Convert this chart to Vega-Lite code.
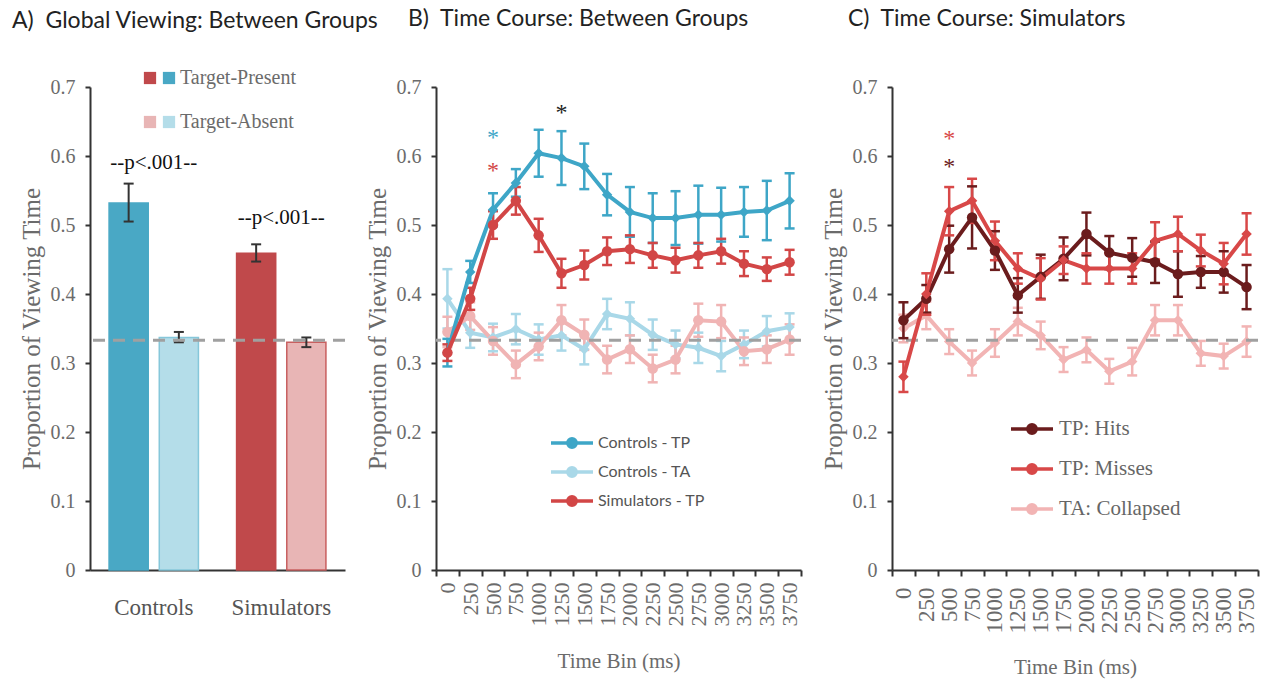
{
  "$schema": "https://vega.github.io/schema/vega-lite/v6.json",
  "background": "white",
  "padding": {"left": 12, "top": 8, "right": 2, "bottom": 2},
  "bounds": "flush",
  "spacing": 91,
  "resolve": {
    "scale": {"color": "independent", "fill": "independent", "x": "independent", "y": "independent"},
    "legend": {"color": "independent", "fill": "independent"}
  },
  "config": {
    "view": {"stroke": null},
    "axis": {
      "domainColor": "#333", "domainWidth": 2, "tickColor": "#333", "tickWidth": 2, "tickSize": 5,
      "labelFont": "Liberation Serif", "labelColor": "#6b6b6b", "labelFontSize": 20,
      "titleFont": "Liberation Serif", "titleColor": "#6b6b6b", "titleFontSize": 25, "titleFontWeight": "normal",
      "grid": false
    },
    "axisY": {"tickCount": 7, "labelPadding": 10, "titlePadding": 6, "labelExpr": "datum.value == 0 ? '0' : format(datum.value, '.1f')"},
    "title": {"font": "Lato", "fontSize": 23, "fontWeight": "normal", "color": "#222", "anchor": "start", "frame": "group"}
  },
  "datasets": {
    "bars": [
      {"group": "Controls", "condition": "Target-Present", "v": 0.532, "lo": 0.505, "hi": 0.560},
      {"group": "Controls", "condition": "Target-Absent", "v": 0.337, "lo": 0.330, "hi": 0.345},
      {"group": "Simulators", "condition": "Target-Present", "v": 0.459, "lo": 0.447, "hi": 0.472},
      {"group": "Simulators", "condition": "Target-Absent", "v": 0.330, "lo": 0.323, "hi": 0.337}
    ],
    "pvals": [
      {"group": "Controls", "v": 0.59, "label": "--p<.001--"},
      {"group": "Simulators", "v": 0.51, "label": "--p<.001--"}
    ],
    "chance": [{"level": 0.333}],
    "timeB": [
      {"series": "Controls - TP", "t": 0, "v": 0.315, "lo": 0.295, "hi": 0.335},
      {"series": "Controls - TP", "t": 250, "v": 0.432, "lo": 0.416, "hi": 0.448},
      {"series": "Controls - TP", "t": 500, "v": 0.522, "lo": 0.498, "hi": 0.546},
      {"series": "Controls - TP", "t": 750, "v": 0.561, "lo": 0.541, "hi": 0.581},
      {"series": "Controls - TP", "t": 1000, "v": 0.604, "lo": 0.570, "hi": 0.638},
      {"series": "Controls - TP", "t": 1250, "v": 0.597, "lo": 0.558, "hi": 0.636},
      {"series": "Controls - TP", "t": 1500, "v": 0.585, "lo": 0.552, "hi": 0.618},
      {"series": "Controls - TP", "t": 1750, "v": 0.544, "lo": 0.514, "hi": 0.574},
      {"series": "Controls - TP", "t": 2000, "v": 0.519, "lo": 0.483, "hi": 0.555},
      {"series": "Controls - TP", "t": 2250, "v": 0.510, "lo": 0.474, "hi": 0.546},
      {"series": "Controls - TP", "t": 2500, "v": 0.510, "lo": 0.471, "hi": 0.549},
      {"series": "Controls - TP", "t": 2750, "v": 0.515, "lo": 0.473, "hi": 0.557},
      {"series": "Controls - TP", "t": 3000, "v": 0.515, "lo": 0.476, "hi": 0.554},
      {"series": "Controls - TP", "t": 3250, "v": 0.519, "lo": 0.483, "hi": 0.555},
      {"series": "Controls - TP", "t": 3500, "v": 0.521, "lo": 0.478, "hi": 0.564},
      {"series": "Controls - TP", "t": 3750, "v": 0.535, "lo": 0.495, "hi": 0.575},
      {"series": "Simulators - TP", "t": 0, "v": 0.315, "lo": 0.303, "hi": 0.327},
      {"series": "Simulators - TP", "t": 250, "v": 0.393, "lo": 0.377, "hi": 0.409},
      {"series": "Simulators - TP", "t": 500, "v": 0.500, "lo": 0.480, "hi": 0.520},
      {"series": "Simulators - TP", "t": 750, "v": 0.535, "lo": 0.515, "hi": 0.555},
      {"series": "Simulators - TP", "t": 1000, "v": 0.485, "lo": 0.461, "hi": 0.509},
      {"series": "Simulators - TP", "t": 1250, "v": 0.430, "lo": 0.409, "hi": 0.451},
      {"series": "Simulators - TP", "t": 1500, "v": 0.442, "lo": 0.421, "hi": 0.463},
      {"series": "Simulators - TP", "t": 1750, "v": 0.462, "lo": 0.442, "hi": 0.482},
      {"series": "Simulators - TP", "t": 2000, "v": 0.465, "lo": 0.445, "hi": 0.485},
      {"series": "Simulators - TP", "t": 2250, "v": 0.456, "lo": 0.438, "hi": 0.474},
      {"series": "Simulators - TP", "t": 2500, "v": 0.449, "lo": 0.431, "hi": 0.467},
      {"series": "Simulators - TP", "t": 2750, "v": 0.456, "lo": 0.438, "hi": 0.474},
      {"series": "Simulators - TP", "t": 3000, "v": 0.462, "lo": 0.444, "hi": 0.480},
      {"series": "Simulators - TP", "t": 3250, "v": 0.444, "lo": 0.426, "hi": 0.462},
      {"series": "Simulators - TP", "t": 3500, "v": 0.436, "lo": 0.419, "hi": 0.453},
      {"series": "Simulators - TP", "t": 3750, "v": 0.446, "lo": 0.428, "hi": 0.464},
      {"series": "Controls - TA", "t": 0, "v": 0.393, "lo": 0.350, "hi": 0.436},
      {"series": "Controls - TA", "t": 250, "v": 0.344, "lo": 0.322, "hi": 0.366},
      {"series": "Controls - TA", "t": 500, "v": 0.337, "lo": 0.317, "hi": 0.357},
      {"series": "Controls - TA", "t": 750, "v": 0.349, "lo": 0.327, "hi": 0.371},
      {"series": "Controls - TA", "t": 1000, "v": 0.334, "lo": 0.312, "hi": 0.356},
      {"series": "Controls - TA", "t": 1250, "v": 0.340, "lo": 0.318, "hi": 0.362},
      {"series": "Controls - TA", "t": 1500, "v": 0.320, "lo": 0.298, "hi": 0.342},
      {"series": "Controls - TA", "t": 1750, "v": 0.371, "lo": 0.349, "hi": 0.393},
      {"series": "Controls - TA", "t": 2000, "v": 0.364, "lo": 0.340, "hi": 0.388},
      {"series": "Controls - TA", "t": 2250, "v": 0.341, "lo": 0.319, "hi": 0.363},
      {"series": "Controls - TA", "t": 2500, "v": 0.327, "lo": 0.307, "hi": 0.347},
      {"series": "Controls - TA", "t": 2750, "v": 0.322, "lo": 0.300, "hi": 0.344},
      {"series": "Controls - TA", "t": 3000, "v": 0.310, "lo": 0.288, "hi": 0.332},
      {"series": "Controls - TA", "t": 3250, "v": 0.327, "lo": 0.307, "hi": 0.347},
      {"series": "Controls - TA", "t": 3500, "v": 0.346, "lo": 0.324, "hi": 0.368},
      {"series": "Controls - TA", "t": 3750, "v": 0.352, "lo": 0.332, "hi": 0.372},
      {"series": "Simulators - TA", "t": 0, "v": 0.345, "lo": 0.323, "hi": 0.367},
      {"series": "Simulators - TA", "t": 250, "v": 0.368, "lo": 0.348, "hi": 0.388},
      {"series": "Simulators - TA", "t": 500, "v": 0.332, "lo": 0.312, "hi": 0.352},
      {"series": "Simulators - TA", "t": 750, "v": 0.298, "lo": 0.278, "hi": 0.318},
      {"series": "Simulators - TA", "t": 1000, "v": 0.324, "lo": 0.304, "hi": 0.344},
      {"series": "Simulators - TA", "t": 1250, "v": 0.362, "lo": 0.340, "hi": 0.384},
      {"series": "Simulators - TA", "t": 1500, "v": 0.341, "lo": 0.319, "hi": 0.363},
      {"series": "Simulators - TA", "t": 1750, "v": 0.305, "lo": 0.285, "hi": 0.325},
      {"series": "Simulators - TA", "t": 2000, "v": 0.320, "lo": 0.300, "hi": 0.340},
      {"series": "Simulators - TA", "t": 2250, "v": 0.292, "lo": 0.272, "hi": 0.312},
      {"series": "Simulators - TA", "t": 2500, "v": 0.305, "lo": 0.285, "hi": 0.325},
      {"series": "Simulators - TA", "t": 2750, "v": 0.362, "lo": 0.338, "hi": 0.386},
      {"series": "Simulators - TA", "t": 3000, "v": 0.360, "lo": 0.336, "hi": 0.384},
      {"series": "Simulators - TA", "t": 3250, "v": 0.317, "lo": 0.297, "hi": 0.337},
      {"series": "Simulators - TA", "t": 3500, "v": 0.320, "lo": 0.300, "hi": 0.340},
      {"series": "Simulators - TA", "t": 3750, "v": 0.334, "lo": 0.312, "hi": 0.356}
    ],
    "timeC": [
      {"series": "TP: Hits", "t": 0, "v": 0.362, "lo": 0.336, "hi": 0.388},
      {"series": "TP: Hits", "t": 250, "v": 0.393, "lo": 0.373, "hi": 0.413},
      {"series": "TP: Hits", "t": 500, "v": 0.465, "lo": 0.431, "hi": 0.499},
      {"series": "TP: Hits", "t": 750, "v": 0.511, "lo": 0.466, "hi": 0.556},
      {"series": "TP: Hits", "t": 1000, "v": 0.463, "lo": 0.435, "hi": 0.491},
      {"series": "TP: Hits", "t": 1250, "v": 0.398, "lo": 0.373, "hi": 0.423},
      {"series": "TP: Hits", "t": 1500, "v": 0.425, "lo": 0.393, "hi": 0.457},
      {"series": "TP: Hits", "t": 1750, "v": 0.451, "lo": 0.420, "hi": 0.482},
      {"series": "TP: Hits", "t": 2000, "v": 0.487, "lo": 0.456, "hi": 0.518},
      {"series": "TP: Hits", "t": 2250, "v": 0.460, "lo": 0.436, "hi": 0.484},
      {"series": "TP: Hits", "t": 2500, "v": 0.453, "lo": 0.425, "hi": 0.481},
      {"series": "TP: Hits", "t": 2750, "v": 0.446, "lo": 0.416, "hi": 0.476},
      {"series": "TP: Hits", "t": 3000, "v": 0.429, "lo": 0.396, "hi": 0.462},
      {"series": "TP: Hits", "t": 3250, "v": 0.432, "lo": 0.409, "hi": 0.455},
      {"series": "TP: Hits", "t": 3500, "v": 0.432, "lo": 0.402, "hi": 0.462},
      {"series": "TP: Hits", "t": 3750, "v": 0.410, "lo": 0.378, "hi": 0.442},
      {"series": "TP: Misses", "t": 0, "v": 0.280, "lo": 0.258, "hi": 0.302},
      {"series": "TP: Misses", "t": 250, "v": 0.400, "lo": 0.370, "hi": 0.430},
      {"series": "TP: Misses", "t": 500, "v": 0.520, "lo": 0.485, "hi": 0.555},
      {"series": "TP: Misses", "t": 750, "v": 0.535, "lo": 0.503, "hi": 0.567},
      {"series": "TP: Misses", "t": 1000, "v": 0.477, "lo": 0.449, "hi": 0.505},
      {"series": "TP: Misses", "t": 1250, "v": 0.437, "lo": 0.415, "hi": 0.459},
      {"series": "TP: Misses", "t": 1500, "v": 0.422, "lo": 0.392, "hi": 0.452},
      {"series": "TP: Misses", "t": 1750, "v": 0.449, "lo": 0.429, "hi": 0.469},
      {"series": "TP: Misses", "t": 2000, "v": 0.437, "lo": 0.415, "hi": 0.459},
      {"series": "TP: Misses", "t": 2250, "v": 0.437, "lo": 0.415, "hi": 0.459},
      {"series": "TP: Misses", "t": 2500, "v": 0.437, "lo": 0.415, "hi": 0.459},
      {"series": "TP: Misses", "t": 2750, "v": 0.477, "lo": 0.450, "hi": 0.504},
      {"series": "TP: Misses", "t": 3000, "v": 0.487, "lo": 0.462, "hi": 0.512},
      {"series": "TP: Misses", "t": 3250, "v": 0.463, "lo": 0.440, "hi": 0.486},
      {"series": "TP: Misses", "t": 3500, "v": 0.444, "lo": 0.414, "hi": 0.474},
      {"series": "TP: Misses", "t": 3750, "v": 0.487, "lo": 0.457, "hi": 0.517},
      {"series": "TA: Collapsed", "t": 0, "v": 0.350, "lo": 0.330, "hi": 0.370},
      {"series": "TA: Collapsed", "t": 250, "v": 0.369, "lo": 0.349, "hi": 0.389},
      {"series": "TA: Collapsed", "t": 500, "v": 0.331, "lo": 0.313, "hi": 0.349},
      {"series": "TA: Collapsed", "t": 750, "v": 0.300, "lo": 0.282, "hi": 0.318},
      {"series": "TA: Collapsed", "t": 1000, "v": 0.329, "lo": 0.309, "hi": 0.349},
      {"series": "TA: Collapsed", "t": 1250, "v": 0.360, "lo": 0.340, "hi": 0.380},
      {"series": "TA: Collapsed", "t": 1500, "v": 0.340, "lo": 0.320, "hi": 0.360},
      {"series": "TA: Collapsed", "t": 1750, "v": 0.305, "lo": 0.287, "hi": 0.323},
      {"series": "TA: Collapsed", "t": 2000, "v": 0.319, "lo": 0.301, "hi": 0.337},
      {"series": "TA: Collapsed", "t": 2250, "v": 0.288, "lo": 0.270, "hi": 0.306},
      {"series": "TA: Collapsed", "t": 2500, "v": 0.302, "lo": 0.282, "hi": 0.322},
      {"series": "TA: Collapsed", "t": 2750, "v": 0.362, "lo": 0.340, "hi": 0.384},
      {"series": "TA: Collapsed", "t": 3000, "v": 0.362, "lo": 0.340, "hi": 0.384},
      {"series": "TA: Collapsed", "t": 3250, "v": 0.314, "lo": 0.296, "hi": 0.332},
      {"series": "TA: Collapsed", "t": 3500, "v": 0.310, "lo": 0.292, "hi": 0.328},
      {"series": "TA: Collapsed", "t": 3750, "v": 0.331, "lo": 0.309, "hi": 0.353}
    ],
    "starsB": [
      {"series": "Controls - TP", "t": 500, "v": 0.633},
      {"series": "Simulators - TP", "t": 500, "v": 0.585},
      {"series": "Between", "t": 1250, "v": 0.670}
    ],
    "starsC": [
      {"series": "TP: Misses", "t": 500, "v": 0.632},
      {"series": "TP: Hits", "t": 500, "v": 0.592}
    ]
  },
  "hconcat": [
    {
      "width": 255,
      "height": 483,
      "title": {"text": "A)\u00a0 Global Viewing: Between Groups", "dx": -78, "offset": 35},
      "resolve": {"scale": {"fill": "independent"}, "legend": {"fill": "independent"}},
      "layer": [
        {
          "data": {"name": "bars"},
          "transform": [{"filter": "datum.group == 'Controls'"}],
          "mark": {"type": "bar", "strokeWidth": 1.5},
          "encoding": {
            "x": {"field": "group", "type": "nominal", "title": null, "scale": {"paddingInner": 0, "paddingOuter": 0}, "axis": {"ticks": false, "labelAngle": 0, "labelFontSize": 23, "labelPadding": 26, "labelColor": "#555"}},
            "xOffset": {"field": "condition", "type": "nominal", "scale": {"domain": ["Target-Present", "Target-Absent"], "paddingInner": 0.22, "paddingOuter": 0.38}},
            "y": {"field": "v", "type": "quantitative", "title": "Proportion of Viewing Time", "scale": {"domain": [0, 0.7], "nice": false}},
            "fill": {"field": "condition", "type": "nominal", "scale": {"domain": ["Target-Present", "Target-Absent"], "range": ["#49a8c5", "#b4dde9"]},
              "legend": {"orient": "none", "legendX": 69, "legendY": -19, "title": null, "symbolType": "square", "symbolSize": 150, "symbolStrokeWidth": 0, "labelFont": "Liberation Serif", "labelFontSize": 20, "labelColor": "#6b6b6b", "labelOffset": 1, "rowPadding": 24, "padding": 0}},
            "stroke": {"condition": {"test": "datum.condition == 'Target-Absent'", "value": "#86c7da"}, "value": "#49a8c5"}
          }
        },
        {
          "data": {"name": "bars"},
          "transform": [{"filter": "datum.group == 'Simulators'"}],
          "mark": {"type": "bar", "strokeWidth": 1.5},
          "encoding": {
            "x": {"field": "group", "type": "nominal", "title": null, "scale": {"paddingInner": 0, "paddingOuter": 0}, "axis": {"ticks": false, "labelAngle": 0, "labelFontSize": 23, "labelPadding": 26, "labelColor": "#555"}},
            "xOffset": {"field": "condition", "type": "nominal", "scale": {"domain": ["Target-Present", "Target-Absent"], "paddingInner": 0.22, "paddingOuter": 0.38}},
            "y": {"field": "v", "type": "quantitative", "title": "Proportion of Viewing Time", "scale": {"domain": [0, 0.7], "nice": false}},
            "fill": {"field": "condition", "type": "nominal", "scale": {"domain": ["Target-Present", "Target-Absent"], "range": ["#c0494b", "#e8b5b5"]},
              "legend": {"orient": "none", "legendX": 50, "legendY": -19, "title": null, "symbolType": "square", "symbolSize": 150, "symbolStrokeWidth": 0, "labelExpr": "''", "labelFontSize": 20, "rowPadding": 24, "padding": 0}},
            "stroke": {"condition": {"test": "datum.condition == 'Target-Absent'", "value": "#c86060"}, "value": "#c0494b"}
          }
        },
        {
          "data": {"name": "bars"},
          "mark": {"type": "rule", "color": "#333", "strokeWidth": 2},
          "encoding": {
            "x": {"field": "group", "type": "nominal", "title": null},
            "xOffset": {"field": "condition", "type": "nominal"},
            "y": {"field": "lo", "type": "quantitative", "title": "Proportion of Viewing Time"},
            "y2": {"field": "hi"}
          }
        },
        {
          "data": {"name": "bars"},
          "transform": [{"fold": ["lo", "hi"], "as": ["k", "val"]}],
          "mark": {"type": "point", "shape": "stroke", "size": 100, "strokeWidth": 2, "color": "#333", "filled": false, "opacity": 1},
          "encoding": {
            "x": {"field": "group", "type": "nominal", "title": null},
            "xOffset": {"field": "condition", "type": "nominal"},
            "y": {"field": "val", "type": "quantitative", "title": "Proportion of Viewing Time"}
          }
        },
        {
          "data": {"name": "chance"},
          "mark": {"type": "rule", "color": "#a0a0a0", "strokeWidth": 3, "strokeDash": [12, 8]},
          "encoding": {"y": {"field": "level", "type": "quantitative", "title": "Proportion of Viewing Time"}}
        },
        {
          "data": {"name": "pvals"},
          "mark": {"type": "text", "font": "Liberation Serif", "fontSize": 21, "color": "#111", "baseline": "middle"},
          "encoding": {
            "x": {"field": "group", "type": "nominal", "title": null},
            "y": {"field": "v", "type": "quantitative", "title": "Proportion of Viewing Time"},
            "text": {"field": "label"}
          }
        }
      ]
    },
    {
      "width": 365,
      "height": 483,
      "title": {"text": "B)\u00a0 Time Course: Between Groups", "dx": -28, "offset": 46},
      "layer": [
        {
          "data": {"name": "timeB"},
          "transform": [{"filter": "slice(datum.series, -2) == 'TA'"}],
          "mark": {"type": "rule", "strokeWidth": 2.5},
          "encoding": {
            "x": {"field": "t", "type": "ordinal", "title": "Time Bin (ms)", "scale": {"type": "band", "domain": [0, 250, 500, 750, 1000, 1250, 1500, 1750, 2000, 2250, 2500, 2750, 3000, 3250, 3500, 3750], "paddingInner": 0, "paddingOuter": 0}, "axis": {"labelAngle": -90, "tickBand": "extent", "tickSize": 6, "labelFontSize": 22, "labelPadding": 6, "titlePadding": 24, "titleFontSize": 21}},
            "y": {"field": "lo", "type": "quantitative", "title": "Proportion of Viewing Time", "scale": {"domain": [0, 0.7], "nice": false}},
            "y2": {"field": "hi"},
            "color": {"field": "series", "type": "nominal", "scale": {"domain": ["Controls - TP", "Controls - TA", "Simulators - TP", "Simulators - TA", "Between"], "range": ["#3ea6c7", "#a9d8e8", "#d24646", "#f0b4b4", "#222222"]}}
          }
        },
        {
          "data": {"name": "timeB"},
          "transform": [{"filter": "slice(datum.series, -2) == 'TA'"}, {"fold": ["lo", "hi"], "as": ["k", "val"]}],
          "mark": {"type": "point", "shape": "stroke", "size": 100, "strokeWidth": 2.5, "filled": false, "opacity": 1},
          "encoding": {
            "x": {"field": "t", "type": "ordinal", "title": "Time Bin (ms)"},
            "y": {"field": "val", "type": "quantitative", "title": "Proportion of Viewing Time"},
            "color": {"field": "series", "type": "nominal"}
          }
        },
        {
          "data": {"name": "timeB"},
          "transform": [{"filter": "slice(datum.series, -2) == 'TA'"}],
          "mark": {"type": "line", "strokeWidth": 4},
          "encoding": {
            "x": {"field": "t", "type": "ordinal", "title": "Time Bin (ms)"},
            "y": {"field": "v", "type": "quantitative", "title": "Proportion of Viewing Time"},
            "color": {"field": "series", "type": "nominal"}
          }
        },
        {
          "data": {"name": "timeB"},
          "transform": [{"filter": "slice(datum.series, -2) == 'TA'"}],
          "mark": {"type": "point", "filled": true, "size": 110, "opacity": 1},
          "encoding": {
            "x": {"field": "t", "type": "ordinal", "title": "Time Bin (ms)"},
            "y": {"field": "v", "type": "quantitative", "title": "Proportion of Viewing Time"},
            "color": {"field": "series", "type": "nominal"},
            "shape": {"condition": {"test": "slice(datum.series, 0, 3) == 'Sim'", "value": "circle"}, "value": "diamond"}
          }
        },
        {
          "data": {"name": "chance"},
          "mark": {"type": "rule", "color": "#a0a0a0", "strokeWidth": 3, "strokeDash": [12, 8]},
          "encoding": {"y": {"field": "level", "type": "quantitative", "title": "Proportion of Viewing Time"}}
        },
        {
          "data": {"name": "timeB"},
          "transform": [{"filter": "slice(datum.series, -2) == 'TP'"}],
          "mark": {"type": "rule", "strokeWidth": 2.5},
          "encoding": {
            "x": {"field": "t", "type": "ordinal", "title": "Time Bin (ms)"},
            "y": {"field": "lo", "type": "quantitative", "title": "Proportion of Viewing Time"},
            "y2": {"field": "hi"},
            "color": {"field": "series", "type": "nominal"}
          }
        },
        {
          "data": {"name": "timeB"},
          "transform": [{"filter": "slice(datum.series, -2) == 'TP'"}, {"fold": ["lo", "hi"], "as": ["k", "val"]}],
          "mark": {"type": "point", "shape": "stroke", "size": 100, "strokeWidth": 2.5, "filled": false, "opacity": 1},
          "encoding": {
            "x": {"field": "t", "type": "ordinal", "title": "Time Bin (ms)"},
            "y": {"field": "val", "type": "quantitative", "title": "Proportion of Viewing Time"},
            "color": {"field": "series", "type": "nominal"}
          }
        },
        {
          "data": {"name": "timeB"},
          "transform": [{"filter": "slice(datum.series, -2) == 'TP'"}],
          "mark": {"type": "line", "strokeWidth": 4},
          "encoding": {
            "x": {"field": "t", "type": "ordinal", "title": "Time Bin (ms)"},
            "y": {"field": "v", "type": "quantitative", "title": "Proportion of Viewing Time"},
            "color": {"field": "series", "type": "nominal",
              "legend": {"orient": "none", "legendX": 124, "legendY": 344, "title": null, "values": ["Controls - TP", "Controls - TA", "Simulators - TP"], "symbolType": "M-2.1,0H2.1M0.42,0A0.42,0.42,0,1,1,-0.42,0A0.42,0.42,0,1,1,0.42,0", "symbolSize": 400, "symbolStrokeWidth": 3.5, "labelFont": "Lato", "labelFontSize": 16, "labelColor": "#555", "labelOffset": 14, "rowPadding": 5, "padding": 0}}
          }
        },
        {
          "data": {"name": "timeB"},
          "transform": [{"filter": "slice(datum.series, -2) == 'TP'"}],
          "mark": {"type": "point", "filled": true, "size": 110, "opacity": 1},
          "encoding": {
            "x": {"field": "t", "type": "ordinal", "title": "Time Bin (ms)"},
            "y": {"field": "v", "type": "quantitative", "title": "Proportion of Viewing Time"},
            "color": {"field": "series", "type": "nominal"},
            "shape": {"condition": {"test": "slice(datum.series, 0, 3) == 'Sim'", "value": "circle"}, "value": "diamond"}
          }
        },
        {
          "data": {"name": "starsB"},
          "mark": {"type": "text", "text": "*", "font": "Liberation Serif", "fontSize": 24, "baseline": "middle", "dy": 5},
          "encoding": {
            "x": {"field": "t", "type": "ordinal", "title": "Time Bin (ms)"},
            "y": {"field": "v", "type": "quantitative", "title": "Proportion of Viewing Time"},
            "color": {"field": "series", "type": "nominal"}
          }
        }
      ]
    },
    {
      "width": 366,
      "height": 483,
      "title": {"text": "C)\u00a0 Time Course: Simulators", "dx": -44, "offset": 46},
      "layer": [
        {
          "data": {"name": "timeC"},
          "transform": [{"filter": "datum.series == 'TA: Collapsed'"}],
          "mark": {"type": "rule", "strokeWidth": 2.5},
          "encoding": {
            "x": {"field": "t", "type": "ordinal", "title": "Time Bin (ms)", "scale": {"type": "band", "domain": [0, 250, 500, 750, 1000, 1250, 1500, 1750, 2000, 2250, 2500, 2750, 3000, 3250, 3500, 3750], "paddingInner": 0, "paddingOuter": 0}, "axis": {"labelAngle": -90, "tickBand": "extent", "tickSize": 6, "labelFontSize": 23, "labelPadding": 11, "titlePadding": 23, "titleFontSize": 21}},
            "y": {"field": "lo", "type": "quantitative", "title": "Proportion of Viewing Time", "scale": {"domain": [0, 0.7], "nice": false}},
            "y2": {"field": "hi"},
            "color": {"field": "series", "type": "nominal", "scale": {"domain": ["TP: Hits", "TP: Misses", "TA: Collapsed"], "range": ["#6b1c1d", "#d84848", "#f2b4b4"]}}
          }
        },
        {
          "data": {"name": "timeC"},
          "transform": [{"filter": "datum.series == 'TA: Collapsed'"}, {"fold": ["lo", "hi"], "as": ["k", "val"]}],
          "mark": {"type": "point", "shape": "stroke", "size": 100, "strokeWidth": 2.5, "filled": false, "opacity": 1},
          "encoding": {
            "x": {"field": "t", "type": "ordinal", "title": "Time Bin (ms)"},
            "y": {"field": "val", "type": "quantitative", "title": "Proportion of Viewing Time"},
            "color": {"field": "series", "type": "nominal"}
          }
        },
        {
          "data": {"name": "timeC"},
          "transform": [{"filter": "datum.series == 'TA: Collapsed'"}],
          "mark": {"type": "line", "strokeWidth": 4},
          "encoding": {
            "x": {"field": "t", "type": "ordinal", "title": "Time Bin (ms)"},
            "y": {"field": "v", "type": "quantitative", "title": "Proportion of Viewing Time"},
            "color": {"field": "series", "type": "nominal"}
          }
        },
        {
          "data": {"name": "timeC"},
          "transform": [{"filter": "datum.series == 'TA: Collapsed'"}],
          "mark": {"type": "point", "filled": true, "size": 110, "opacity": 1, "shape": "diamond"},
          "encoding": {
            "x": {"field": "t", "type": "ordinal", "title": "Time Bin (ms)"},
            "y": {"field": "v", "type": "quantitative", "title": "Proportion of Viewing Time"},
            "color": {"field": "series", "type": "nominal"}
          }
        },
        {
          "data": {"name": "chance"},
          "mark": {"type": "rule", "color": "#a0a0a0", "strokeWidth": 3, "strokeDash": [12, 8]},
          "encoding": {"y": {"field": "level", "type": "quantitative", "title": "Proportion of Viewing Time"}}
        },
        {
          "data": {"name": "timeC"},
          "transform": [{"filter": "datum.series != 'TA: Collapsed'"}],
          "mark": {"type": "rule", "strokeWidth": 2.5},
          "encoding": {
            "x": {"field": "t", "type": "ordinal", "title": "Time Bin (ms)"},
            "y": {"field": "lo", "type": "quantitative", "title": "Proportion of Viewing Time"},
            "y2": {"field": "hi"},
            "color": {"field": "series", "type": "nominal"}
          }
        },
        {
          "data": {"name": "timeC"},
          "transform": [{"filter": "datum.series != 'TA: Collapsed'"}, {"fold": ["lo", "hi"], "as": ["k", "val"]}],
          "mark": {"type": "point", "shape": "stroke", "size": 100, "strokeWidth": 2.5, "filled": false, "opacity": 1},
          "encoding": {
            "x": {"field": "t", "type": "ordinal", "title": "Time Bin (ms)"},
            "y": {"field": "val", "type": "quantitative", "title": "Proportion of Viewing Time"},
            "color": {"field": "series", "type": "nominal"}
          }
        },
        {
          "data": {"name": "timeC"},
          "transform": [{"filter": "datum.series != 'TA: Collapsed'"}],
          "mark": {"type": "line", "strokeWidth": 4},
          "encoding": {
            "x": {"field": "t", "type": "ordinal", "title": "Time Bin (ms)"},
            "y": {"field": "v", "type": "quantitative", "title": "Proportion of Viewing Time"},
            "color": {"field": "series", "type": "nominal",
              "legend": {"orient": "none", "legendX": 128, "legendY": 330, "title": null, "values": ["TP: Hits", "TP: Misses", "TA: Collapsed"], "symbolType": "M-2.1,0H2.1M0.42,0A0.42,0.42,0,1,1,-0.42,0A0.42,0.42,0,1,1,0.42,0", "symbolSize": 400, "symbolStrokeWidth": 3.5, "labelFont": "Liberation Serif", "labelFontSize": 21, "labelColor": "#666", "labelOffset": 15, "rowPadding": 16, "padding": 0}}
          }
        },
        {
          "data": {"name": "timeC"},
          "transform": [{"filter": "datum.series != 'TA: Collapsed'"}],
          "mark": {"type": "point", "filled": true, "size": 110, "opacity": 1},
          "encoding": {
            "x": {"field": "t", "type": "ordinal", "title": "Time Bin (ms)"},
            "y": {"field": "v", "type": "quantitative", "title": "Proportion of Viewing Time"},
            "color": {"field": "series", "type": "nominal"},
            "shape": {"condition": {"test": "datum.series == 'TP: Hits'", "value": "circle"}, "value": "diamond"}
          }
        },
        {
          "data": {"name": "starsC"},
          "mark": {"type": "text", "text": "*", "font": "Liberation Serif", "fontSize": 24, "baseline": "middle", "dy": 5},
          "encoding": {
            "x": {"field": "t", "type": "ordinal", "title": "Time Bin (ms)"},
            "y": {"field": "v", "type": "quantitative", "title": "Proportion of Viewing Time"},
            "color": {"field": "series", "type": "nominal"}
          }
        }
      ]
    }
  ]
}
